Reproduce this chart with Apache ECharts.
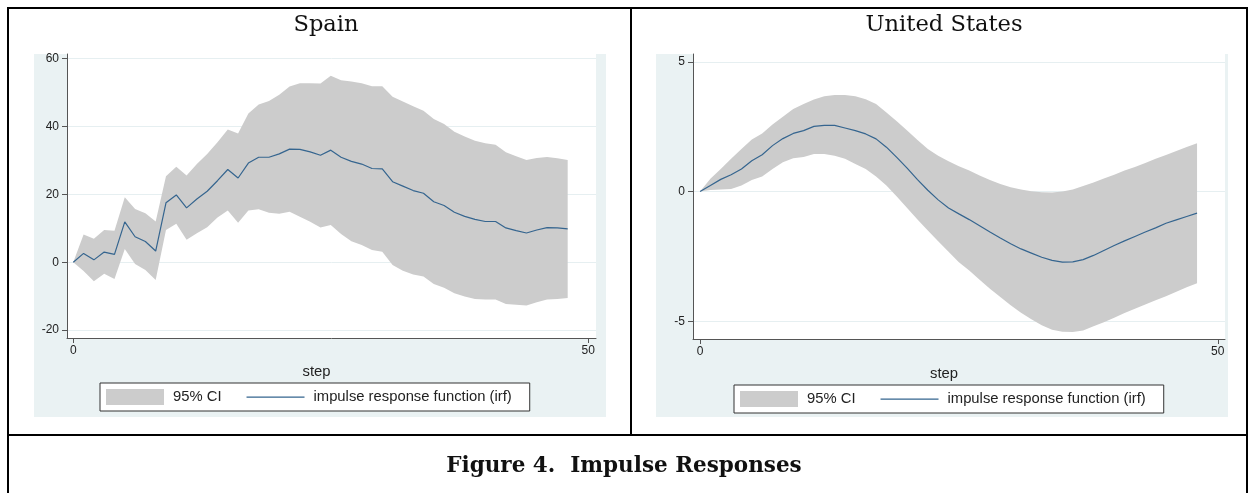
<!DOCTYPE html>
<html><head><meta charset="utf-8">
<script src="https://cdn.jsdelivr.net/npm/echarts@6/dist/echarts.min.js"></script>
<style>
html,body{margin:0;padding:0;background:#fff;}
#wrap{position:relative;width:1250px;height:493px;overflow:hidden;background:#fff;}
.ln{position:absolute;background:#000;}
.gr{position:absolute;background:#eaf2f3;}
#chart{position:absolute;left:0;top:0;width:1250px;height:493px;}
</style></head><body>
<div id="wrap">
 <div class="gr" style="left:34px;top:54px;width:572px;height:363px"></div>
 <div class="gr" style="left:656px;top:54px;width:572px;height:363px"></div>
 <div class="ln" style="left:7px;top:7px;width:1241px;height:2px"></div>
 <div class="ln" style="left:7px;top:7px;width:2px;height:486px"></div>
 <div class="ln" style="left:1246px;top:7px;width:2px;height:486px"></div>
 <div class="ln" style="left:630px;top:7px;width:2px;height:428px"></div>
 <div class="ln" style="left:7px;top:434px;width:1241px;height:2px"></div>
 <div id="chart"></div>
</div>
<script>
const steps = [0,1,2,3,4,5,6,7,8,9,10,11,12,13,14,15,16,17,18,19,20,21,22,23,24,25,26,27,28,29,30,31,32,33,34,35,36,37,38,39,40,41,42,43,44,45,46,47,48];

const spainIrf = [0,2.6,0.7,3.0,2.3,11.9,7.5,6.1,3.3,17.5,19.8,16.0,18.6,20.9,24.0,27.3,24.8,29.2,30.9,30.9,31.9,33.3,33.2,32.5,31.5,33.0,30.9,29.7,28.9,27.6,27.5,23.7,22.4,21.1,20.3,17.8,16.7,14.7,13.5,12.6,12.0,12.0,10.1,9.3,8.6,9.5,10.2,10.1,9.8];
const spainUpper = [0,8.2,6.9,9.5,9.3,19.1,15.7,14.4,12.0,25.3,28.1,25.5,28.9,31.9,35.3,39.1,37.9,43.8,46.4,47.5,49.3,51.7,52.7,52.7,52.6,54.9,53.6,53.2,52.7,51.8,51.8,48.7,47.3,45.9,44.6,42.2,40.7,38.4,37.0,35.8,35.0,34.6,32.4,31.2,30.1,30.7,31.0,30.6,30.1];
const spainLower = [0,-2.6,-5.6,-3.4,-4.9,3.9,-0.5,-2.3,-5.2,9.5,11.3,6.6,8.5,10.3,13.2,15.2,11.6,15.2,15.6,14.6,14.3,14.9,13.4,11.9,10.2,11.0,8.3,6.2,5.1,3.6,3.1,-0.8,-2.5,-3.6,-4.2,-6.4,-7.5,-9.1,-10.1,-10.8,-11.0,-11.0,-12.3,-12.5,-12.7,-11.8,-11.0,-10.8,-10.5];

const usIrf = [0,0.23,0.47,0.65,0.87,1.19,1.42,1.77,2.04,2.24,2.35,2.51,2.55,2.55,2.45,2.35,2.22,2.03,1.71,1.32,0.90,0.46,0.05,-0.32,-0.63,-0.86,-1.08,-1.32,-1.56,-1.79,-2.01,-2.21,-2.37,-2.53,-2.65,-2.72,-2.71,-2.62,-2.46,-2.27,-2.08,-1.90,-1.73,-1.56,-1.40,-1.22,-1.09,-0.96,-0.83];
const usUpper = [0,0.49,0.87,1.26,1.64,2.01,2.24,2.58,2.88,3.18,3.37,3.55,3.67,3.72,3.72,3.67,3.56,3.37,3.05,2.71,2.35,1.99,1.64,1.38,1.17,0.98,0.81,0.62,0.45,0.29,0.17,0.08,0.01,-0.03,-0.04,0,0.08,0.21,0.35,0.50,0.65,0.81,0.95,1.10,1.26,1.41,1.56,1.72,1.86];
const usLower = [0,0.06,0.08,0.10,0.23,0.45,0.58,0.87,1.13,1.28,1.33,1.45,1.45,1.38,1.26,1.06,0.87,0.58,0.23,-0.19,-0.63,-1.08,-1.50,-1.91,-2.32,-2.72,-3.04,-3.40,-3.74,-4.06,-4.38,-4.67,-4.92,-5.15,-5.32,-5.40,-5.41,-5.35,-5.19,-5.03,-4.86,-4.68,-4.51,-4.35,-4.19,-4.03,-3.86,-3.69,-3.53];

const spainYTicks = [-20,0,20,40,60];
const usYTicks = [-5,0,5];
const xTicks = [0,50];

const panelTitles = ['Spain','United States'];
const legendNames = ['95% CI','impulse response function (irf)'];
const xTitle = 'step';
const caption = 'Figure 4.  Impulse Responses';

const BAND = '#cccccc', LINE = '#35658f', AXIS = '#555555', GRIDC = '#e6eff1', TXT = '#222222';
const SANS = 'Liberation Sans, Arial, sans-serif';
const SERIF = 'DejaVu Serif, serif';
const LINE_ICON = 'path://M0,0H0.05V0.05H0Z M0,7.5H58V8.7H0Z M57.95,15.95H58V16H57.95Z';

function bandRender(params, api){
  if (params.dataIndexInside !== 0) return null;
  const n = params.dataInsideLength, top = [], bot = [];
  for (let i = 0; i < n; i++){
    top.push(api.coord([api.value(0,i), api.value(2,i)]));
    bot.push(api.coord([api.value(0,i), api.value(1,i)]));
  }
  return {type:'polygon', shape:{points: top.concat(bot.reverse())}, style:{fill: BAND}};
}

function xAxisCfg(gi, min, max, gap){
  return {type:'value', gridIndex:gi, min:min, max:max, minInterval:50, maxInterval:50,
    axisLine:{show:true, onZero:false, lineStyle:{color:AXIS, width:1}},
    axisTick:{show:true, length:5, customValues:xTicks, lineStyle:{color:AXIS}},
    axisLabel:{customValues:xTicks, margin:7, fontSize:12, color:TXT, fontFamily:SANS},
    splitLine:{show:false},
    name:xTitle, nameLocation:'middle', nameGap:gap,
    nameTextStyle:{fontSize:14.8, color:TXT, fontFamily:SANS, padding:[0,30,0,0]}};
}
function yAxisCfg(gi, min, max, iv, ticks){
  return {type:'value', gridIndex:gi, min:min, max:max, minInterval:iv, maxInterval:iv,
    axisLine:{show:true, onZero:false, lineStyle:{color:AXIS, width:1}},
    axisTick:{show:true, length:5, customValues:ticks, lineStyle:{color:AXIS}},
    axisLabel:{customValues:ticks, margin:8, fontSize:12, color:TXT, fontFamily:SANS},
    splitLine:{show:true, lineStyle:{color:GRIDC, width:1}}};
}
function legendCfg(left, top){
  return {left:left, top:top, orient:'horizontal', selectedMode:false,
    data:[{name:legendNames[0], icon:'rect'}, {name:legendNames[1], icon:LINE_ICON}],
    itemWidth:58, itemHeight:16, itemGap:25, padding:[6,18,6,6],
    borderColor:'#333', borderWidth:1, backgroundColor:'#fff', borderRadius:0,
    textStyle:{fontSize:14.8, color:TXT, fontFamily:SANS, padding:[0,0,0,4]}};
}

const chart = echarts.init(document.getElementById('chart'), null, {renderer:'canvas'});
chart.setOption({
  animation:false,
  grid:[
    {left:67, top:54, width:529, height:284, show:true, backgroundColor:'#fff', borderWidth:0},
    {left:693, top:54, width:532, height:285, show:true, backgroundColor:'#fff', borderWidth:0}
  ],
  xAxis:[xAxisCfg(0, -0.61, 50.75, 26), xAxisCfg(1, -0.68, 50.7, 27)],
  yAxis:[yAxisCfg(0, -22.3, 61.3, 20, spainYTicks), yAxisCfg(1, -5.68, 5.3, 5, usYTicks)],
  legend:[legendCfg(100, 383), legendCfg(734, 385)],
  series:[
    {type:'custom', name:legendNames[0], xAxisIndex:0, yAxisIndex:0, renderItem:bandRender,
     itemStyle:{color:BAND}, encode:{x:0, y:[1,2]}, silent:true, z:1,
     data: steps.map((s,i)=>[s, spainLower[i], spainUpper[i]])},
    {type:'line', name:legendNames[1], xAxisIndex:0, yAxisIndex:0, symbol:'none', z:3,
     lineStyle:{color:LINE, width:1.2}, itemStyle:{color:LINE},
     data: steps.map((s,i)=>[s, spainIrf[i]])},
    {type:'custom', name:legendNames[0], xAxisIndex:1, yAxisIndex:1, renderItem:bandRender,
     itemStyle:{color:BAND}, encode:{x:0, y:[1,2]}, silent:true, z:1,
     data: steps.map((s,i)=>[s, usLower[i], usUpper[i]])},
    {type:'line', name:legendNames[1], xAxisIndex:1, yAxisIndex:1, symbol:'none', z:3,
     lineStyle:{color:LINE, width:1.2}, itemStyle:{color:LINE},
     data: steps.map((s,i)=>[s, usIrf[i]])}
  ],
  graphic:[
    {type:'text', x:326, y:25, style:{text:panelTitles[0], align:'center', verticalAlign:'middle', font:'22.6px '+SERIF, fill:'#111'}},
    {type:'text', x:944, y:25, style:{text:panelTitles[1], align:'center', verticalAlign:'middle', font:'22.6px '+SERIF, fill:'#111'}},
    {type:'text', x:624, y:466, style:{text:caption, align:'center', verticalAlign:'middle', font:'bold 21.5px '+SERIF, fill:'#111'}}
  ]
});
</script>
</body></html>
